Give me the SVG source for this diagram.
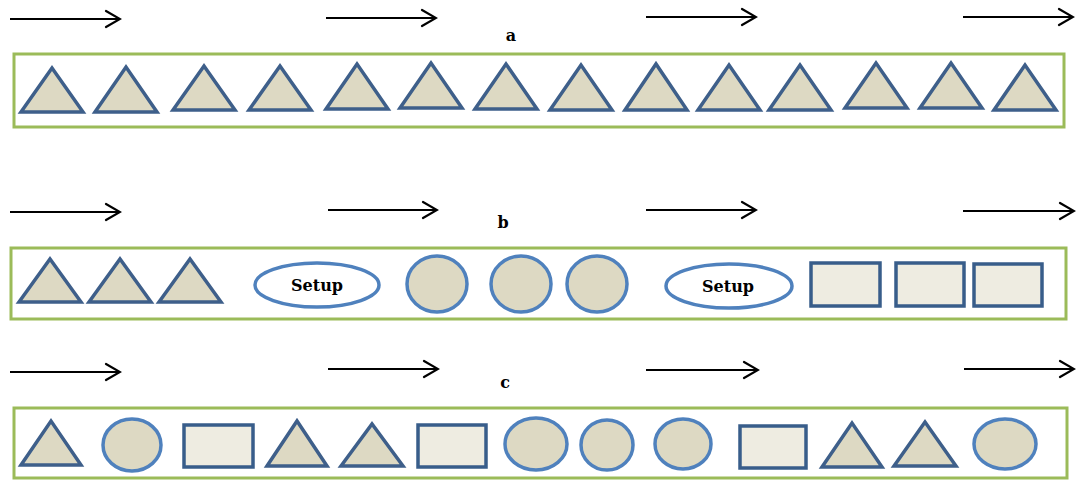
<svg xmlns="http://www.w3.org/2000/svg" width="1076" height="481" viewBox="0 0 1076 481">
  <defs>
    <style>
      .band { fill: #ffffff; stroke: #9bbb59; stroke-width: 3; }
      .tri { fill: #ddd9c3; stroke: #3e5f8a; stroke-width: 3.5; stroke-linejoin: miter; }
      .circ { fill: #ddd9c3; stroke: #4f81bd; stroke-width: 3.5; }
      .box { fill: #eeece1; stroke: #385d8a; stroke-width: 3.5; }
      .setup { fill: #ffffff; stroke: #4f81bd; stroke-width: 3.5; }
      .lbl { font-family: "DejaVu Serif", "Liberation Serif", serif; font-weight: bold; fill: #000000; }
      .flow { stroke: #000000; stroke-width: 2.2; fill: none; }
      .head { stroke: #000000; stroke-width: 2.2; fill: none; stroke-linecap: round; stroke-linejoin: miter; }
    </style>
    <marker id="chev" viewBox="0 0 18 20" refX="16" refY="10" markerWidth="18" markerHeight="20" markerUnits="userSpaceOnUse" orient="auto">
      <path d="M2,2 L16,10 L2,18" class="head"/>
    </marker>
  </defs>

  <rect width="1076" height="481" fill="#ffffff"/>

  <!-- flow direction arrows -->
  <g id="connectors">
    <line class="flow" x1="10" y1="19" x2="120" y2="19" marker-end="url(#chev)"/>
    <line class="flow" x1="326" y1="18" x2="436" y2="18" marker-end="url(#chev)"/>
    <line class="flow" x1="646" y1="17" x2="756" y2="17" marker-end="url(#chev)"/>
    <line class="flow" x1="963" y1="17" x2="1073" y2="17" marker-end="url(#chev)"/>

    <line class="flow" x1="10" y1="212" x2="120" y2="212" marker-end="url(#chev)"/>
    <line class="flow" x1="328" y1="210" x2="437" y2="210" marker-end="url(#chev)"/>
    <line class="flow" x1="646" y1="210" x2="756" y2="210" marker-end="url(#chev)"/>
    <line class="flow" x1="963" y1="211" x2="1074" y2="211" marker-end="url(#chev)"/>

    <line class="flow" x1="10" y1="372" x2="120" y2="372" marker-end="url(#chev)"/>
    <line class="flow" x1="328" y1="369" x2="438" y2="369" marker-end="url(#chev)"/>
    <line class="flow" x1="646" y1="370" x2="758" y2="370" marker-end="url(#chev)"/>
    <line class="flow" x1="964" y1="369" x2="1074" y2="369" marker-end="url(#chev)"/>
  </g>

  <!-- sequence a: all triangles -->
  <g id="seq-a">
    <text class="lbl" x="511" y="41" font-size="16" text-anchor="middle">a</text>
    <rect class="band" x="14" y="54" width="1050" height="73"/>
    <polygon class="tri" points="21,112 52,68 83,112"/>
    <polygon class="tri" points="95,112 126,67 157,112"/>
    <polygon class="tri" points="173,110 204,66 235,110"/>
    <polygon class="tri" points="249,110 280,66 311,110"/>
    <polygon class="tri" points="326,109 357,64 388,109"/>
    <polygon class="tri" points="400,108 431,63 462,108"/>
    <polygon class="tri" points="475,109 506,64 537,109"/>
    <polygon class="tri" points="550,110 581,65 612,110"/>
    <polygon class="tri" points="625,110 656,64 687,110"/>
    <polygon class="tri" points="698,110 729,65 760,110"/>
    <polygon class="tri" points="769,110 800,65 831,110"/>
    <polygon class="tri" points="845,108 876,63 907,108"/>
    <polygon class="tri" points="920,108 951,63 982,108"/>
    <polygon class="tri" points="994,110 1025,65 1056,110"/>
  </g>

  <!-- sequence b: batches separated by setups -->
  <g id="seq-b">
    <text class="lbl" x="503" y="228" font-size="16" text-anchor="middle">b</text>
    <rect class="band" x="11" y="248" width="1055" height="71"/>
    <polygon class="tri" points="19,302 50,259 81,302"/>
    <polygon class="tri" points="89,302 120,259 151,302"/>
    <polygon class="tri" points="159,302 190,259 221,302"/>
    <g id="setup-1">
      <ellipse class="setup" cx="317" cy="285" rx="62" ry="22"/>
      <text class="lbl" x="317" y="291" font-size="16" text-anchor="middle">Setup</text>
    </g>
    <ellipse class="circ" cx="437" cy="284" rx="30" ry="28"/>
    <ellipse class="circ" cx="521" cy="284" rx="30" ry="28"/>
    <ellipse class="circ" cx="597" cy="284" rx="30" ry="28"/>
    <g id="setup-2">
      <ellipse class="setup" cx="729" cy="286" rx="63" ry="22"/>
      <text class="lbl" x="728" y="292" font-size="16" text-anchor="middle">Setup</text>
    </g>
    <rect class="box" x="811" y="263" width="69" height="43"/>
    <rect class="box" x="896" y="263" width="68" height="43"/>
    <rect class="box" x="974" y="264" width="68" height="42"/>
  </g>

  <!-- sequence c: mixed order -->
  <g id="seq-c">
    <text class="lbl" x="505" y="388" font-size="16" text-anchor="middle">c</text>
    <rect class="band" x="14" y="408" width="1053" height="70"/>
    <polygon class="tri" points="21,465 51,421 81,465"/>
    <ellipse class="circ" cx="132" cy="445" rx="29" ry="26"/>
    <rect class="box" x="184" y="425" width="69" height="42"/>
    <polygon class="tri" points="267,466 297,421 327,466"/>
    <polygon class="tri" points="341,466 372,424 403,466"/>
    <rect class="box" x="418" y="425" width="68" height="42"/>
    <ellipse class="circ" cx="536" cy="444" rx="31" ry="26"/>
    <ellipse class="circ" cx="607" cy="445" rx="26" ry="25"/>
    <ellipse class="circ" cx="683" cy="444" rx="28" ry="25"/>
    <rect class="box" x="740" y="426" width="66" height="42"/>
    <polygon class="tri" points="822,467 852,423 882,467"/>
    <polygon class="tri" points="894,466 925,422 956,466"/>
    <ellipse class="circ" cx="1005" cy="444" rx="31" ry="25"/>
  </g>
</svg>
